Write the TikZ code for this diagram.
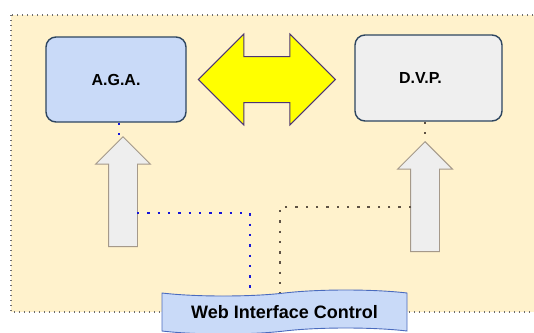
\documentclass[tikz,border=0pt]{standalone}
\usepackage{fontspec}
\setmainfont{Liberation Sans}
\usepackage{xcolor}
\usepackage{tikz}
\usetikzlibrary{positioning,calc,shapes.arrows,shapes.symbols}

\definecolor{bgfill}{HTML}{FFF2CC}
\definecolor{bgdot}{HTML}{6E6E6E}
\definecolor{agafill}{HTML}{C9DAF8}
\definecolor{dvpfill}{HTML}{EFEFEF}
\definecolor{boxline}{HTML}{2E4660}
\definecolor{linkfill}{HTML}{FFFF00}
\definecolor{linkline}{HTML}{4C3575}
\definecolor{liftfill}{HTML}{EEEEEE}
\definecolor{liftline}{HTML}{A5998A}
\definecolor{webline}{HTML}{4A6BBE}
\definecolor{bluewire}{HTML}{1515D8}
\definecolor{brownwire}{HTML}{5E5244}

\begin{document}
\begin{tikzpicture}[x=1pt, y=-1pt, node distance = 11pt]
            \tikzstyle{panel} = [rectangle, rounded corners=10pt, draw=boxline, line width=1.4pt, font=\bfseries\fontsize{16}{18}\selectfont];
            \tikzstyle{bothway} = [double arrow, fill=linkfill, draw=linkline, line width=1pt, inner xsep=0pt, inner ysep=22.5pt, minimum width=0pt, minimum height=137pt, double arrow head extend=22.5pt, double arrow tip angle=90];
            \tikzstyle{lift} = [single arrow, fill=liftfill, draw=liftline, line width=0.9pt, inner xsep=0pt, inner ysep=14pt, minimum width=0pt, minimum height=110pt, single arrow head extend=13pt, single arrow tip angle=90, rotate=90, anchor=tip];
            \tikzstyle{banner} = [tape, tape bend top=in and out, tape bend bottom=in and out, tape bend height=6pt, fill=agafill, draw=webline, line width=0.9pt, minimum width=245pt, minimum height=44pt, font=\bfseries\fontsize{18}{20}\selectfont];
            \tikzstyle{bluedots} = [draw=bluewire, line width=2.4pt, dash pattern=on 2.4pt off 7.9pt];
            \tikzstyle{browndots} = [draw=brownwire, line width=2.4pt, dash pattern=on 2.4pt off 7.9pt];

            \useasboundingbox (0,0) rectangle (534,332);
            \fill[bgfill] (11,15) rectangle (540,312);
            \draw[bgdot, line width=1.3pt, dash pattern=on 1.3pt off 3.7pt] (11,15) rectangle (540,312);

            \node [panel, fill=agafill, minimum width=140pt, minimum height=85pt] (aga) at (116,79.5) {A.G.A.};
            \node [bothway, right = of aga] (link) {};
            \node [panel, fill=dvpfill, minimum width=147pt, minimum height=86pt] (dvp) at (428.5,78) {D.V.P.\hspace*{16pt}};

            \node [lift] (liftL) at (123,136) {};
            \node [lift] (liftR) at (425,141) {};

            \node [banner] (web) at (284.5,312) {Web Interface Control};

            \draw [bluedots] ([xshift=3pt]aga.south) -- ([xshift=3pt]aga.south |- liftL.tip);
            \draw [bluedots] ($(liftL.tip |- 0,213)+(14,0)$) -| (250,0 |- web.north);
            \draw [browndots] (dvp.south -| liftR.tip) -- (liftR.tip);
            \draw [browndots] ($(liftR.tip |- 0,207)+(-14,0)$) -| (280,0 |- web.north);
\end{tikzpicture}
\end{document}
